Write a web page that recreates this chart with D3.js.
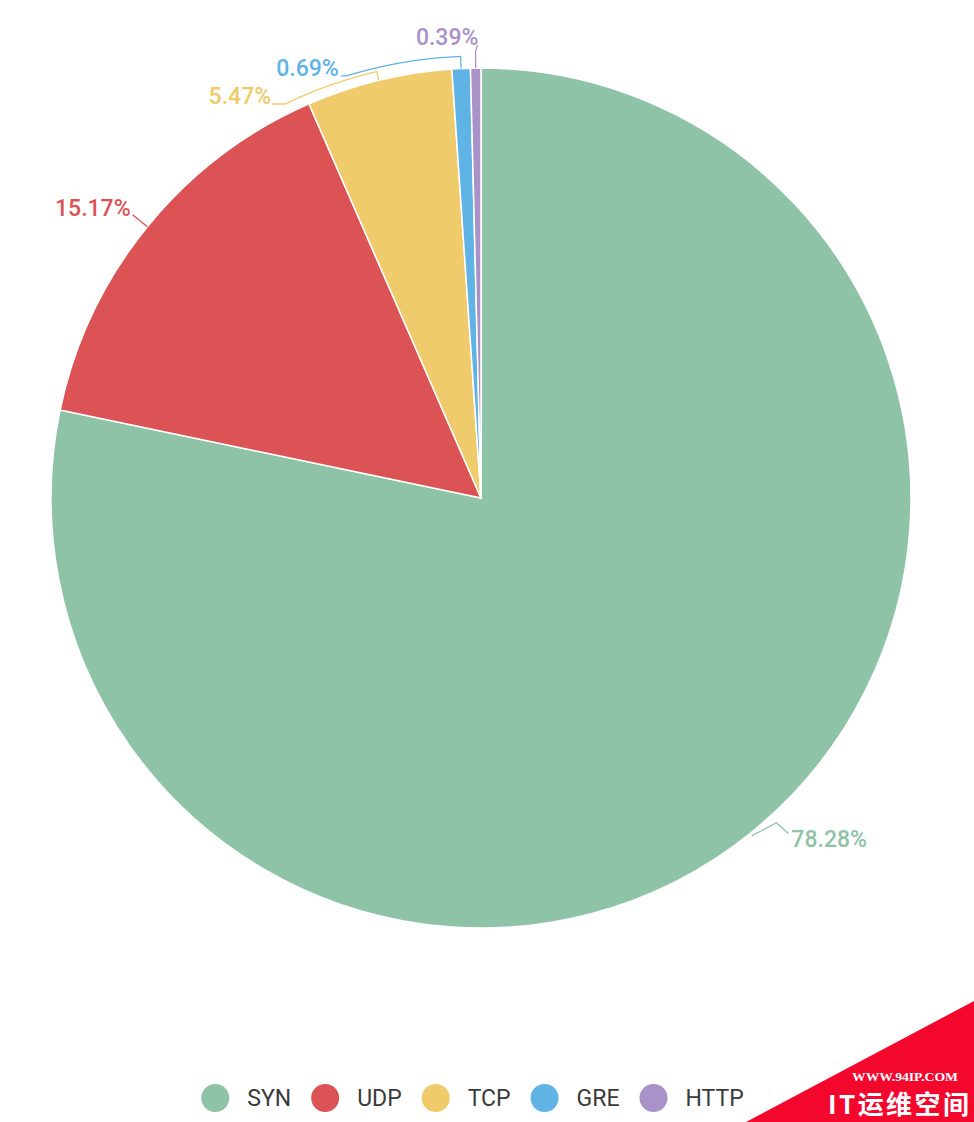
<!DOCTYPE html>
<html><head><meta charset="utf-8">
<script src="https://cdn.jsdelivr.net/npm/d3@7"></script>
<style>body{margin:0;background:#fff} svg{display:block}</style>
</head><body>
<svg id="chart" width="974" height="1122"></svg>
<script>
// ---- data ----
const categories = ["SYN", "UDP", "TCP", "GRE", "HTTP"];
const values = [78.28, 15.17, 5.47, 0.69, 0.39];
const labelTexts = ["78.28%", "15.17%", "5.47%", "0.69%", "0.39%"];
const colors = ["#8fc3a8", "#dc5356", "#efcb6b", "#60b4e5", "#a992c8"];

// ---- label layout (leader line steps in polar coords: [deg offset from slice middle, radius, arc?]) ----
const leaderSteps = [
  [[0.4, 433], [-3.2, 439], [-3.4, 455]],
  [[0, 430], [0, 449]],
  [[0, 430], [0, 439], [-12.7, 440, true]],
  [[0, 430], [0, 442], [-15, 443, true]],
  [[0, 430], [0, 446], [0.25, 453]]
];
const leaderTail = [0, 0, -13, -6, 0];           // final horizontal run
const labelAnchor = ["start", "end", "end", "end", "end"];
const labelDx = [3, -2, -1, -2, 1];
const labelDy = [14, 1, 0, 0, 0];

const W = 974, H = 1122, cx = 481, cy = 498, R = 430;
const svg = d3.select("#chart");

const data = categories.map((c, i) => ({ name: c, value: values[i], label: labelTexts[i], color: colors[i], i }));
const pie = d3.pie().value(d => d.value).sort(null).startAngle(0).endAngle(2 * Math.PI);
const arcs = pie(data);
const arcGen = d3.arc().innerRadius(0).outerRadius(R);

const g = svg.append("g").attr("transform", `translate(${cx},${cy})`);
g.selectAll("path.slice").data(arcs).join("path")
  .attr("class", "slice")
  .attr("d", arcGen)
  .attr("fill", d => d.data.color)
  .attr("stroke", "#fff")
  .attr("stroke-width", 1.5)
  .attr("stroke-linejoin", "round");

const pol = (a, r) => [r * Math.sin(a), -r * Math.cos(a)];
const toRad = d3.scaleLinear().domain([0, 180]).range([0, Math.PI]);

arcs.forEach(a => {
  const i = a.data.i;
  const mid = (a.startAngle + a.endAngle) / 2;
  const pts = [];
  let prev = null;
  leaderSteps[i].forEach(s => {
    const ang = mid + toRad(s[0]);
    if (s[2] && prev) {
      d3.range(1, 31).forEach(k => {
        const t = k / 30;
        const aa = prev[0] + (ang - prev[0]) * t;
        const rr = prev[1] + (s[1] - prev[1]) * t;
        pts.push(pol(aa, rr));
      });
    } else {
      pts.push(pol(ang, s[1]));
    }
    prev = [ang, s[1]];
  });
  const last = pts[pts.length - 1];
  if (leaderTail[i]) pts.push([last[0] + leaderTail[i], last[1]]);
  const end = pts[pts.length - 1];
  g.append("path")
    .attr("d", d3.line()(pts))
    .attr("fill", "none")
    .attr("stroke", a.data.color)
    .attr("stroke-width", 1.3);
  g.append("text")
    .attr("x", end[0] + labelDx[i])
    .attr("y", end[1] + labelDy[i])
    .attr("text-anchor", labelAnchor[i])
    .attr("font-family", "Roboto, sans-serif")
    .attr("font-weight", 500)
    .attr("font-size", 23)
    .attr("fill", a.data.color)
    .text(a.data.label);
});

// ---- legend ----
const lg = svg.append("g");
const items = lg.selectAll("g").data(data).join("g");
items.append("circle").attr("r", 14).attr("cx", 14).attr("cy", 0).attr("fill", d => d.color);
items.append("text")
  .attr("x", 46).attr("y", 0).attr("dy", "0.35em")
  .attr("font-family", "Roboto, sans-serif")
  .attr("font-size", 23)
  .attr("fill", "#3a3a3a")
  .text(d => d.name);
const widths = [];
items.each(function () {
  widths.push(46 + d3.select(this).select("text").node().getComputedTextLength());
});
const total = d3.sum(widths) + 20 * (widths.length - 1);
const xoff = 472.5 - total / 2;
items.attr("transform", (d, k) => `translate(${xoff + d3.sum(widths.slice(0, k)) + 20 * k},1098)`);

// ---- watermark ----
const wm = svg.append("g");
wm.append("path").attr("d", d3.line()([[746, 1122], [974, 1001], [974, 1122]])).attr("fill", "#f3072d");
wm.append("text").attr("x", 905).attr("y", 1081).attr("text-anchor", "middle")
  .attr("font-family", "'Liberation Serif', serif").attr("font-weight", "bold")
  .attr("font-size", 12).attr("fill", "#fff").attr("textLength", 106).attr("lengthAdjust", "spacingAndGlyphs")
  .text("WWW.94IP.COM");
wm.append("text").attr("x", 828).attr("y", 1114)
  .attr("font-family", "'Noto Sans CJK SC', sans-serif").attr("font-weight", "bold")
  .attr("font-size", 26).attr("fill", "#fff").attr("textLength", 141).attr("lengthAdjust", "spacing")
  .text("IT运维空间");
</script>
</body></html>
